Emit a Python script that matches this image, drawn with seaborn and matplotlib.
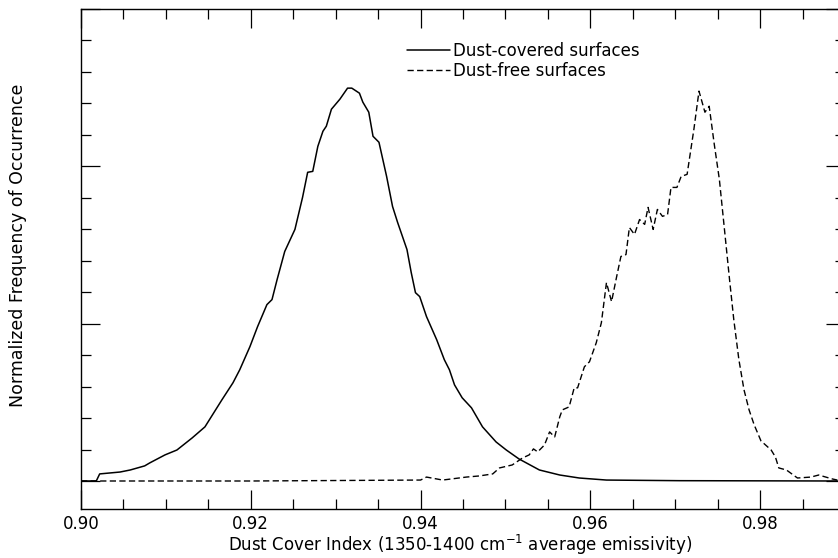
import numpy as np
import pandas as pd
import matplotlib
matplotlib.use("Agg")
import matplotlib.pyplot as plt
from matplotlib.ticker import MultipleLocator, NullFormatter
import seaborn as sns

# Dust-covered surfaces (solid)
covered_x = [0.9000, 0.9018, 0.9022, 0.9034, 0.9046, 0.9058, 0.9075, 0.9081, 0.9099, 0.9113,
             0.9131, 0.9146, 0.9166, 0.9179, 0.9187, 0.9199, 0.9208, 0.9219, 0.9225, 0.9231,
             0.9240, 0.9252, 0.9261, 0.9267, 0.9273, 0.9279, 0.9285, 0.9289, 0.9295, 0.9305,
             0.9314, 0.9319, 0.9328, 0.9332, 0.9339, 0.9344, 0.9351, 0.9360, 0.9367, 0.9373,
             0.9384, 0.9389, 0.9394, 0.9399, 0.9407, 0.9419, 0.9428, 0.9434, 0.9440, 0.9449,
             0.9460, 0.9473, 0.9489, 0.9501, 0.9516, 0.9540, 0.9564, 0.9587, 0.9619, 0.9705,
             0.9891]
covered_y = [0.000, 0.000, 0.045, 0.051, 0.057, 0.070, 0.096, 0.115, 0.166, 0.197,
             0.274, 0.344, 0.516, 0.624, 0.707, 0.854, 0.981, 1.121, 1.153, 1.280,
             1.459, 1.599, 1.803, 1.962, 1.968, 2.127, 2.223, 2.255, 2.363, 2.427,
             2.497, 2.497, 2.465, 2.408, 2.344, 2.191, 2.153, 1.936, 1.745, 1.643,
             1.471, 1.325, 1.197, 1.172, 1.045, 0.898, 0.771, 0.707, 0.611, 0.529,
             0.465, 0.344, 0.248, 0.197, 0.140, 0.070, 0.038, 0.019, 0.006, 0.002,
             0.000]

# Dust-free surfaces (dashed)
free_x = [0.9000, 0.9200, 0.9300, 0.9400, 0.9407, 0.9426, 0.9454, 0.9469, 0.9485, 0.9493,
          0.9508, 0.9520, 0.9528, 0.9533, 0.9538, 0.9546, 0.9552, 0.9558, 0.9564, 0.9567,
          0.9575, 0.9581, 0.9585, 0.9593, 0.9599, 0.9607, 0.9613, 0.9619, 0.9625, 0.9631,
          0.9636, 0.9642, 0.9646, 0.9652, 0.9658, 0.9664, 0.9668, 0.9674, 0.9679, 0.9685,
          0.9691, 0.9695, 0.9702, 0.9707, 0.9714, 0.9722, 0.9728, 0.9735, 0.9740, 0.9746,
          0.9752, 0.9758, 0.9764, 0.9769, 0.9775, 0.9781, 0.9787, 0.9793, 0.9801, 0.9813,
          0.9818, 0.9822, 0.9831, 0.9844, 0.9860, 0.9869, 0.9885, 0.9891]
free_y = [0.000, 0.000, 0.003, 0.006, 0.025, 0.006, 0.025, 0.032, 0.045, 0.083,
          0.102, 0.146, 0.166, 0.204, 0.185, 0.229, 0.312, 0.280, 0.408, 0.452,
          0.471, 0.592, 0.592, 0.726, 0.758, 0.879, 1.006, 1.261, 1.140, 1.299,
          1.427, 1.439, 1.611, 1.567, 1.662, 1.631, 1.739, 1.599, 1.726, 1.682,
          1.694, 1.866, 1.866, 1.936, 1.949, 2.236, 2.478, 2.344, 2.382, 2.140,
          1.917, 1.599, 1.280, 1.025, 0.771, 0.580, 0.452, 0.357, 0.255, 0.197,
          0.153, 0.083, 0.070, 0.019, 0.025, 0.038, 0.013, 0.006]

x_ticks = [0.90, 0.92, 0.94, 0.96, 0.98]
x_tick_labels = ["0.90", "0.92", "0.94", "0.96", "0.98"]
legend_labels = ["Dust-covered surfaces", "Dust-free surfaces"]
x_label = "Dust Cover Index (1350-1400 cm$^{-1}$ average emissivity)"
y_label = "Normalized Frequency of Occurrence"

sns.set_style("white")
plt.rcParams["font.family"] = ["DejaVu Sans"]
plt.rcParams["mathtext.default"] = "regular"
plt.rcParams["text.color"] = "black"
plt.rcParams["xtick.color"] = "black"
plt.rcParams["ytick.color"] = "black"
plt.rcParams["axes.labelcolor"] = "black"

fig = plt.figure(figsize=(8.38, 5.58), dpi=100)
W, H = 838, 558
ax = fig.add_axes([81 / W, (H - 509) / H, (845 - 81) / W, (509 - 9) / H])

df_c = pd.DataFrame({"x": covered_x, "y": covered_y})
df_f = pd.DataFrame({"x": free_x, "y": free_y})
sns.lineplot(data=df_c, x="x", y="y", ax=ax, color="black", lw=1.1,
             estimator=None, sort=False, label=legend_labels[0])
sns.lineplot(data=df_f, x="x", y="y", ax=ax, color="black", lw=1.0,
             estimator=None, sort=False, label=legend_labels[1],
             linestyle=(0, (4.5, 2.4)))

ax.set_xlim(0.90, 0.99)
ax.set_ylim(-0.178, 3.0)

ax.set_xticks(x_ticks)
ax.set_xticklabels(x_tick_labels, fontsize=12, color="black")
ax.xaxis.set_minor_locator(MultipleLocator(0.005))
ax.yaxis.set_major_locator(MultipleLocator(1.0))
ax.yaxis.set_minor_locator(MultipleLocator(0.2))
ax.yaxis.set_major_formatter(NullFormatter())

ax.tick_params(which="both", direction="in", top=True, right=True, bottom=True, left=True,
               color="black", width=0.9)
ax.tick_params(which="major", length=14)
ax.tick_params(which="minor", length=7)
ax.tick_params(axis="x", which="major", pad=4, labelsize=12, labelcolor="black")

for s in ax.spines.values():
    s.set_color("black")
    s.set_linewidth(1.0)

ax.set_xlabel("")
ax.set_ylabel("")
fig.text(460 / W, 1 - 545 / H, x_label, fontsize=12, ha="center", va="center", color="black")
fig.text(18 / W, 1 - 245 / H, y_label, fontsize=12.5, ha="center", va="center",
         rotation=90, color="black")

leg = ax.legend(loc="upper left", bbox_to_anchor=((407 - 81) / 764, (509 - 42) / 500),
                frameon=False, fontsize=12, handlelength=2.6, handletextpad=0.15,
                labelspacing=0.1, borderpad=0, borderaxespad=0)
for t in leg.get_texts():
    t.set_color("black")

fig.savefig("out.png", dpi=100)
